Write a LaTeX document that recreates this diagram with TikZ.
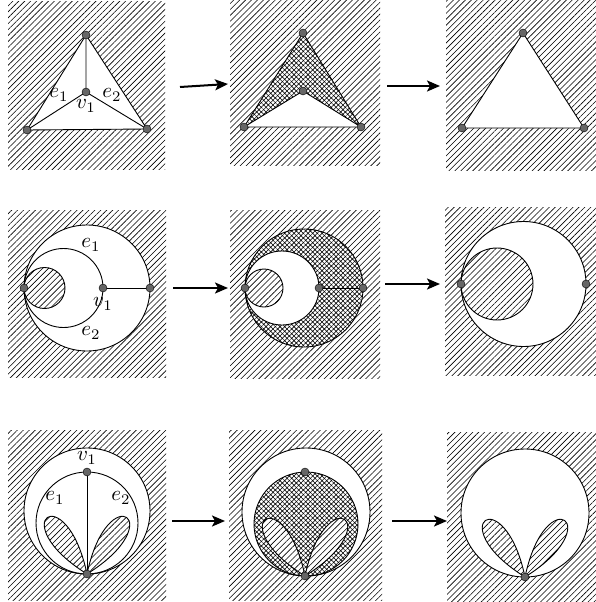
\documentclass[tikz,border=0pt]{standalone}
\usepackage{graphicx}
\usetikzlibrary{patterns.meta,arrows.meta}
\newcommand{\biglab}[1]{\scalebox{2.1}{$#1$}}
\tikzset{
 hatch/.style={pattern={Lines[angle=45,distance=4.2pt,line width=0.6pt]}},
 xhatch/.style={fill=white,
   postaction={pattern={Lines[angle=45,distance=3.3pt,line width=0.6pt]}},
   postaction={pattern={Lines[angle=-45,distance=3.3pt,line width=0.6pt]}}},
 gline/.style={line width=0.9pt},
 vert/.style={circle,fill=black!60,draw=black,line width=0.4pt,inner sep=0pt,minimum size=8pt},
 lab/.style={inner sep=0pt},
 flow/.style={line width=2pt,-{Stealth[length=13pt,width=11pt,inset=3pt]}},
}
\begin{document}
\begin{tikzpicture}[x=1pt,y=-1pt]
\useasboundingbox (0,0) rectangle (596,602);
% ================= Row 1 =================
% panel 1
\fill[hatch] (8,2) rectangle (165,169);
\coordinate (a1t) at (86,35); \coordinate (a1l) at (27,130);
\coordinate (a1r) at (147,129); \coordinate (a1c) at (86,92);
\fill[white] (a1t)--(a1l)--(a1r)--cycle;
\draw[gline] (a1t)--(a1l)--(a1r)--cycle;
\draw[gline] (a1c)--(a1t) (a1c)--(a1l) (a1c)--(a1r);
\node[vert] (A1t) at (a1t) {}; \node[vert] (A1l) at (a1l) {};
\node[vert] (A1r) at (a1r) {}; \node[vert] (A1c) at (a1c) {};
\node[lab] (A1e1) at (59,95) {\biglab{e_1}};
\node[lab] (A1v1) at (86,106) {\biglab{v_1}};
\node[lab] (A1e2) at (112,95) {\biglab{e_2}};
% panel 2
\fill[hatch] (230,0) rectangle (380,165);
\coordinate (a2t) at (303,33); \coordinate (a2l) at (244,127);
\coordinate (a2r) at (361,127); \coordinate (a2c) at (303,91);
\fill[white] (a2t)--(a2l)--(a2r)--cycle;
\path[xhatch] (a2t)--(a2l)--(a2c)--(a2r)--cycle;
\draw[gline] (a2t)--(a2l)--(a2r)--cycle;
\draw[gline] (a2l)--(a2c)--(a2r);
\node[vert] (A2t) at (a2t) {}; \node[vert] (A2l) at (a2l) {};
\node[vert] (A2r) at (a2r) {}; \node[vert] (A2c) at (a2c) {};
% panel 3
\fill[hatch] (446,0) rectangle (596,170);
\coordinate (a3t) at (523,33); \coordinate (a3l) at (462,128);
\coordinate (a3r) at (584,128);
\fill[white] (a3t)--(a3l)--(a3r)--cycle;
\draw[gline] (a3t)--(a3l)--(a3r)--cycle;
\node[vert] (A3t) at (a3t) {}; \node[vert] (A3l) at (a3l) {};
\node[vert] (A3r) at (a3r) {};
% arrows
\coordinate (r1a) at (180,87); \coordinate (r1b) at (228,84);
\coordinate (r1c) at (387,86); \coordinate (r1d) at (440,86);
\draw[flow] (r1a)--(r1b);
\draw[flow] (r1c)--(r1d);
% ================= Row 2 =================
% panel 1
\fill[hatch] (8,210) rectangle (166,377);
\fill[white] (87,288) circle[radius=63];
\fill[hatch] (44.5,288) circle[radius=20.5];
\draw[gline] (87,288) circle[radius=63];
\draw[gline] (63.5,288) circle[radius=39.5];
\draw[gline] (44.5,288) circle[radius=20.5];
\coordinate (b1l) at (24,288); \coordinate (b1v) at (103,288); \coordinate (b1r) at (150,288);
\draw[gline] (b1v)--(b1r);
\node[vert] (B1l) at (b1l) {}; \node[vert] (B1v) at (b1v) {}; \node[vert] (B1r) at (b1r) {};
\node[lab] (B1e1) at (91,245) {\biglab{e_1}};
\node[lab] (B1v1) at (103,304) {\biglab{v_1}};
\node[lab] (B1e2) at (91,333) {\biglab{e_2}};
% panel 2
\fill[hatch] (230,210) rectangle (380,378);
\path[xhatch] (304,288) circle[radius=59];
\fill[white] (282,288) circle[radius=37];
\fill[white] (264,288) circle[radius=19];
\fill[hatch] (264,288) circle[radius=19];
\draw[gline] (304,288) circle[radius=59];
\draw[gline] (282,288) circle[radius=37];
\draw[gline] (264,288) circle[radius=19];
\coordinate (b2l) at (245,288); \coordinate (b2v) at (319,288); \coordinate (b2r) at (363,288);
\draw[gline] (b2v)--(b2r);
\node[vert] (B2l) at (b2l) {}; \node[vert] (B2v) at (b2v) {}; \node[vert] (B2r) at (b2r) {};
% panel 3
\fill[hatch] (445,207) rectangle (596,375);
\fill[white] (523.5,284) circle[radius=62.5];
\fill[hatch] (497,284) circle[radius=36];
\draw[gline] (523.5,284) circle[radius=62.5];
\draw[gline] (497,284) circle[radius=36];
\coordinate (b3l) at (461,284); \coordinate (b3r) at (586,284);
\node[vert] (B3l) at (b3l) {}; \node[vert] (B3r) at (b3r) {};
% arrows
\coordinate (r2a) at (173,288); \coordinate (r2b) at (228,288);
\coordinate (r2c) at (385,284); \coordinate (r2d) at (440,284);
\draw[flow] (r2a)--(r2b);
\draw[flow] (r2c)--(r2d);
% ================= Row 3 =================
% panel 1
\fill[hatch] (8,430) rectangle (166,600);
\coordinate (c1v) at (87,472); \coordinate (c1b) at (87,574);
\fill[white] (87,511) circle[radius=63];
\draw[gline] (87,511) circle[radius=63];
\draw[gline] (87,523) circle[radius=51];
\path[hatch,draw,gline] (c1b) .. controls +(-84.8,-53) and +(-20.8,-97.8) .. (c1b);
\path[hatch,draw,gline] (c1b) .. controls +(20.8,-97.8) and +(84.8,-53) .. (c1b);
\draw[gline] (c1v)--(c1b);
\node[vert] (C1v) at (c1v) {}; \node[vert] (C1b) at (c1b) {};
\node[lab] (C1v1) at (87,458) {\biglab{v_1}};
\node[lab] (C1e1) at (55,498) {\biglab{e_1}};
\node[lab] (C1e2) at (121,498) {\biglab{e_2}};
% panel 2
\fill[hatch] (229,430) rectangle (382,600);
\coordinate (c2v) at (305,472); \coordinate (c2b) at (305,576);
\fill[white] (306,512) circle[radius=64];
\path[xhatch] (306,524) circle[radius=52];
\draw[gline] (306,512) circle[radius=64];
\draw[gline] (306,524) circle[radius=52];
\fill[white] (c2b) .. controls +(-84.8,-53) and +(-20.8,-97.8) .. (c2b);
\fill[white] (c2b) .. controls +(20.8,-97.8) and +(84.8,-53) .. (c2b);
\path[hatch,draw,gline] (c2b) .. controls +(-84.8,-53) and +(-20.8,-97.8) .. (c2b);
\path[hatch,draw,gline] (c2b) .. controls +(20.8,-97.8) and +(84.8,-53) .. (c2b);
\node[vert] (C2v) at (c2v) {}; \node[vert] (C2b) at (c2b) {};
% panel 3
\fill[hatch] (447,432) rectangle (596,602);
\coordinate (c3b) at (525,577);
\fill[white] (525,513) circle[radius=64];
\draw[gline] (525,513) circle[radius=64];
\path[hatch,draw,gline] (c3b) .. controls +(-84.8,-53) and +(-20.8,-97.8) .. (c3b);
\path[hatch,draw,gline] (c3b) .. controls +(20.8,-97.8) and +(84.8,-53) .. (c3b);
\node[vert] (C3b) at (c3b) {};
% arrows
\coordinate (r3a) at (172,521); \coordinate (r3b) at (225,521);
\coordinate (r3c) at (392,521); \coordinate (r3d) at (447,521);
\draw[flow] (r3a)--(r3b);
\draw[flow] (r3c)--(r3d);
\end{tikzpicture}
\end{document}
